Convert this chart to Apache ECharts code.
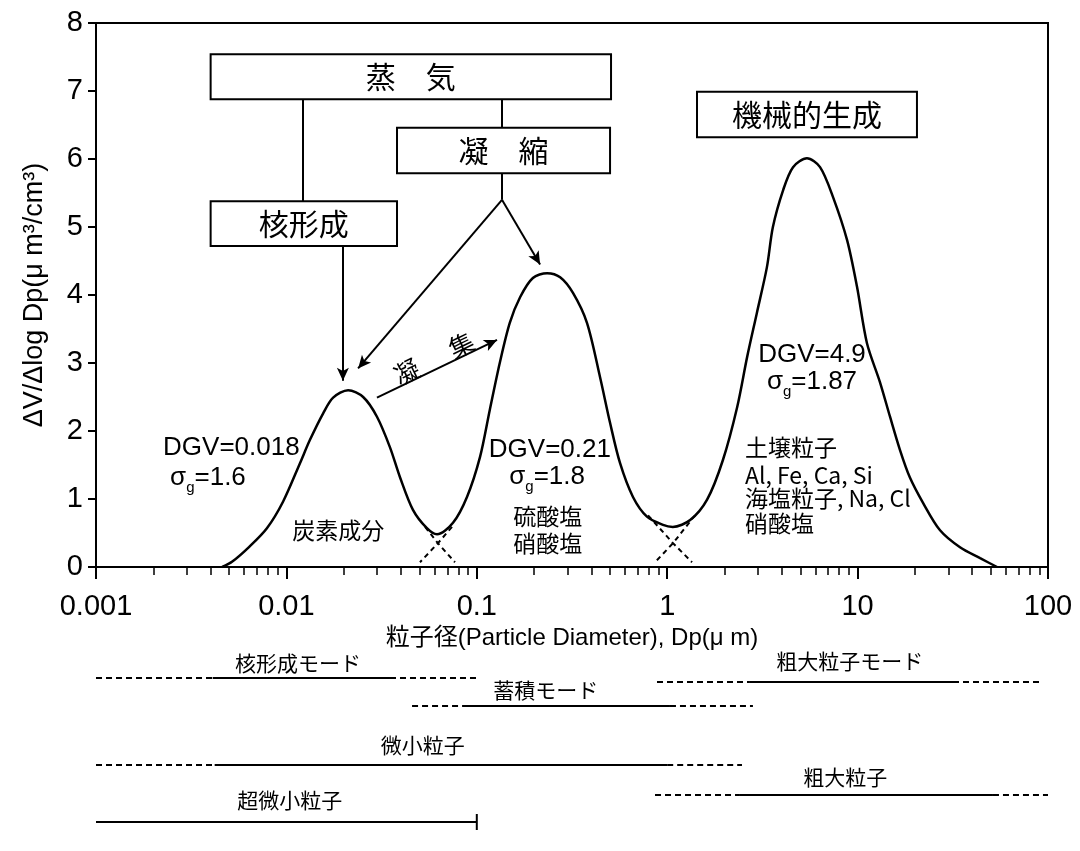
<!DOCTYPE html>
<html lang="ja">
<head>
<meta charset="utf-8">
<title>大気エアロゾルの粒径分布</title>
<script src="https://cdn.jsdelivr.net/npm/echarts@6/dist/echarts.min.js"></script>
<style>
  html, body { margin: 0; padding: 0; background: #fff; }
  #chart { width: 1080px; height: 851px; }
</style>
</head>
<body>
<div id="chart"></div>
<script>
const LATIN = '"Liberation Sans", Arial, "Noto Sans CJK JP", sans-serif'
const CJK = '"Noto Sans CJK JP", "Noto Sans CJK SC", sans-serif'

// 合成した体積分布曲線 (Dp [µm], ΔV/ΔlogDp)
const curveDp = [0.0046, 0.0052, 0.0064, 0.0079, 0.0096, 0.0118, 0.0133, 0.0156, 0.0176, 0.0211,
  0.0253, 0.0299, 0.035, 0.0395, 0.0462, 0.0547, 0.0618, 0.075, 0.0888, 0.104,
  0.117, 0.132, 0.149, 0.169, 0.197, 0.234, 0.274, 0.32, 0.379, 0.444,
  0.501, 0.565, 0.661, 0.783, 0.95, 1.07, 1.32, 1.62, 1.96, 2.33,
  2.63, 2.96, 3.34, 3.59, 4.06, 4.58, 5.42, 6.35, 7.43, 8.8,
  9.93, 11.2, 13.1, 14.8, 16.7, 18.8, 22.1, 27.1, 34.5, 44.0, 54.0]
const curveDv = [0, 0.08, 0.30, 0.57, 0.96, 1.53, 1.87, 2.26, 2.49, 2.60,
  2.50, 2.21, 1.76, 1.32, 0.84, 0.57, 0.48, 0.65, 1.03, 1.62,
  2.31, 3.00, 3.59, 3.97, 4.25, 4.32, 4.26, 4.03, 3.59, 2.79,
  2.12, 1.53, 1.03, 0.74, 0.62, 0.59, 0.69, 0.99, 1.57, 2.35,
  3.09, 3.74, 4.41, 5.00, 5.54, 5.88, 6.01, 5.88, 5.44, 4.81,
  4.12, 3.29, 2.72, 2.21, 1.72, 1.32, 0.94, 0.54, 0.29, 0.13, 0]

// 各モードの裾（谷で交差する点線）
const tailNucDp = [0.0535, 0.0625, 0.0768]
const tailNucDv = [0.59, 0.35, 0.07]
const tailAccLowDp = [0.0741, 0.0625, 0.0503]
const tailAccLowDv = [0.59, 0.35, 0.07]
const tailAccHighDp = [0.793, 1.073, 1.350]
const tailAccHighDv = [0.76, 0.35, 0.07]
const tailCoarseDp = [1.400, 1.073, 0.863]
const tailCoarseDv = [0.76, 0.35, 0.07]

const xTickValues = [0.001, 0.01, 0.1, 1, 10, 100]

// 下段の粒子径区分：点線→実線→点線
const rangeNames = ['核形成モード', '蓄積モード', '粗大粒子モード', '微小粒子', '粗大粒子', '超微小粒子']
const rangeFrom = [0.001, 0.0457, 0.884, 0.001, 0.863, 0.001]
const rangeSolidFrom = [0.0041, 0.0846, 2.72, 0.0042, 2.41, 0.001]
const rangeSolidTo = [0.035, 1.034, 31.7, 1.0, 51.4, 0.1]
const rangeTo = [0.1, 2.82, 94, 2.47, 100, 0.1]

// ---- 注記（配置） ----
const boxes = [
  { text: '蒸　気', from: [0.004, 7.54], to: [0.507, 6.88] },
  { text: '凝　縮', from: [0.0381, 6.46], to: [0.501, 5.79] },
  { text: '核形成', from: [0.004, 5.38], to: [0.0381, 4.72] },
  { text: '機械的生成', from: [1.434, 6.99], to: [20.5, 6.32] }
]
const links = [
  { from: [0.01223, 6.88], to: [0.01223, 5.38] },
  { from: [0.0198, 4.72], to: [0.0198, 2.74], arrow: true },
  { from: [0.1356, 6.88], to: [0.1356, 6.46] },
  { from: [0.1356, 5.79], to: [0.1356, 5.40] },
  { from: [0.1356, 5.40], to: [0.0238, 2.92], arrow: true },
  { from: [0.1356, 5.40], to: [0.215, 4.45], arrow: true },
  { from: [0.0299, 2.49], to: [0.1277, 3.34], arrow: true }
]
const notes = [
  { at: [0.00225, 1.75], text: 'DGV=0.018', align: 'left' },
  { at: [0.00245, 1.31], sigma: '1.6', align: 'left' },
  { at: [0.0187, 0.54], text: '炭素成分', cjk: true },
  { at: [0.242, 1.72], text: 'DGV=0.21' },
  { at: [0.234, 1.32], sigma: '1.8' },
  { at: [0.236, 0.74], text: '硫酸塩', cjk: true },
  { at: [0.236, 0.35], text: '硝酸塩', cjk: true },
  { at: [5.76, 3.12], text: 'DGV=4.9' },
  { at: [5.76, 2.72], sigma: '1.87' },
  { at: [2.56, 1.76], text: '土壌粒子', cjk: true, align: 'left' },
  { at: [2.56, 1.35], text: 'Al, Fe, Ca, Si', cjk: true, align: 'left' },
  { at: [2.56, 1.01], text: '海塩粒子, Na, Cl', cjk: true, align: 'left' },
  { at: [2.56, 0.65], text: '硝酸塩', cjk: true, align: 'left' },
  { at: [0.0595, 3.07], spread: ['凝', '集'], rotate: 26 }
]
// 下段の行位置（上端からのピクセル）
const rowLine = [38, 66, 42, 125, 155, 182]
const rowText = [23, 50, 21, 105, 137, 160]
const rowTextDp = [0.0115, 0.23, 9.1, 0.052, 8.6, 0.0104]

const chart = echarts.init(document.getElementById('chart'))

function noteItem(n) {
  const label = {
    show: true,
    position: 'inside',
    align: n.align || 'center',
    verticalAlign: 'middle',
    rotate: n.rotate || 0,
    color: '#000',
    fontFamily: n.cjk ? CJK : LATIN,
    fontSize: n.cjk ? 23 : 26
  }
  if (n.sigma) {
    label.formatter = '{s|σ}{g|g}{n|=' + n.sigma + '}'
    label.rich = {
      s: { fontFamily: LATIN, fontSize: 26, color: '#000' },
      g: { fontFamily: LATIN, fontSize: 15, color: '#000', padding: [20, 0, 0, 0] },
      n: { fontFamily: LATIN, fontSize: 26, color: '#000' }
    }
  } else if (n.spread) {
    // 凝集：文字の間を広く空ける
    label.formatter = '{c|' + n.spread[0] + '}{sp| }{c|' + n.spread[1] + '}'
    label.rich = {
      c: { fontFamily: CJK, fontSize: 25, color: '#000' },
      sp: { fontFamily: CJK, fontSize: 25, width: 36 }
    }
  } else {
    label.formatter = n.text
  }
  return { value: n.at, label: label }
}

function tail(dp, dv) {
  return {
    type: 'line',
    data: dp.map((d, i) => [d, dv[i]]),
    symbol: 'none',
    silent: true,
    lineStyle: { color: '#000', width: 2, type: [5, 4] },
    z: 4
  }
}

// 下段の線
const rangeSeries = []
rangeNames.forEach((name, i) => {
  const y = rowLine[i]
  const seg = (a, b, dashed) => ({
    type: 'line',
    xAxisIndex: 1,
    yAxisIndex: 1,
    data: [[a, y], [b, y]],
    symbol: 'none',
    silent: true,
    lineStyle: { color: '#000', width: 2, type: dashed ? [6, 4] : 'solid' }
  })
  if (rangeSolidFrom[i] > rangeFrom[i]) rangeSeries.push(seg(rangeFrom[i], rangeSolidFrom[i], true))
  rangeSeries.push(seg(rangeSolidFrom[i], rangeSolidTo[i], false))
  if (rangeTo[i] > rangeSolidTo[i]) rangeSeries.push(seg(rangeSolidTo[i], rangeTo[i], true))
})
// 超微小粒子の右端の縦線
rangeSeries.push({
  type: 'line', xAxisIndex: 1, yAxisIndex: 1, symbol: 'none', silent: true,
  data: [[rangeTo[5], rowLine[5] - 8], [rangeTo[5], rowLine[5] + 8]],
  lineStyle: { color: '#000', width: 2 }
})

const option = {
  animation: false,
  backgroundColor: '#fff',
  grid: [
    { left: 96, right: 32, top: 23, bottom: 284, show: true, borderColor: '#000', borderWidth: 2 },
    { left: 96, right: 32, top: 640, height: 211 }
  ],
  xAxis: [
    {
      type: 'log',
      gridIndex: 0,
      min: 0.001,
      max: 100,
      axisLine: { lineStyle: { color: '#000', width: 2 } },
      axisTick: { length: 12, lineStyle: { color: '#000', width: 2 } },
      minorTick: { show: true, splitNumber: 9, length: 8, lineStyle: { color: '#000', width: 1.5 } },
      splitLine: { show: false },
      axisLabel: {
        color: '#000', fontFamily: LATIN, fontSize: 29, margin: 25,
        formatter: v => String(xTickValues.find(t => Math.abs(t - v) < t * 1e-6) ?? v)
      },
      name: '粒子径(Particle Diameter), Dp(μ m)',
      nameLocation: 'middle',
      nameGap: 58,
      nameTextStyle: { color: '#000', fontFamily: LATIN, fontSize: 24 }
    },
    { type: 'log', gridIndex: 1, min: 0.001, max: 100, show: false }
  ],
  yAxis: [
    {
      type: 'value',
      gridIndex: 0,
      min: 0,
      max: 8,
      interval: 1,
      axisLine: { show: true, lineStyle: { color: '#000', width: 2 } },
      axisTick: { show: true, length: 8, lineStyle: { color: '#000', width: 2 } },
      splitLine: { show: false },
      axisLabel: { color: '#000', fontFamily: LATIN, fontSize: 29, margin: 13 },
      name: 'ΔV/Δlog Dp(μ m³/cm³)',
      nameLocation: 'middle',
      nameGap: 48,
      nameTextStyle: { color: '#000', fontFamily: LATIN, fontSize: 27 }
    },
    { type: 'value', gridIndex: 1, min: 0, max: 211, inverse: true, show: false }
  ],
  series: [
    {
      type: 'line',
      name: 'ΔV/ΔlogDp',
      data: curveDp.map((d, i) => [d, curveDv[i]]),
      smooth: 0.3,
      symbol: 'none',
      silent: true,
      lineStyle: { color: '#000', width: 2.5 },
      z: 5,
      markArea: {
        silent: true,
        itemStyle: { color: '#fff', borderColor: '#000', borderWidth: 2 },
        label: { show: true, position: 'inside', color: '#000', fontFamily: CJK, fontSize: 30 },
        data: boxes.map(b => [{ name: b.text, coord: b.from }, { coord: b.to }])
      },
      markLine: {
        silent: true,
        animation: false,
        symbol: ['none', 'none'],
        label: { show: false },
        lineStyle: { color: '#000', width: 2, type: 'solid' },
        data: links.map(l => [
          { coord: l.from, symbol: 'none' },
          { coord: l.to, symbol: l.arrow ? 'arrow' : 'none', symbolSize: [9, 13] }
        ])
      }
    },
    tail(tailNucDp, tailNucDv),
    tail(tailAccLowDp, tailAccLowDv),
    tail(tailAccHighDp, tailAccHighDv),
    tail(tailCoarseDp, tailCoarseDv),
    {
      type: 'scatter',
      symbolSize: 1,
      silent: true,
      itemStyle: { color: 'rgba(0,0,0,0)', opacity: 1 },
      data: notes.map(noteItem),
      z: 6
    },
    ...rangeSeries,
    {
      type: 'scatter',
      xAxisIndex: 1,
      yAxisIndex: 1,
      symbolSize: 1,
      silent: true,
      itemStyle: { color: 'rgba(0,0,0,0)', opacity: 1 },
      label: { show: true, position: 'inside', color: '#000', fontFamily: CJK, fontSize: 21, formatter: p => p.name },
      data: rangeNames.map((name, i) => ({ name: name, value: [rowTextDp[i], rowText[i]] }))
    }
  ]
}

chart.setOption(option)
window.addEventListener('resize', () => chart.resize())
</script>
</body>
</html>
